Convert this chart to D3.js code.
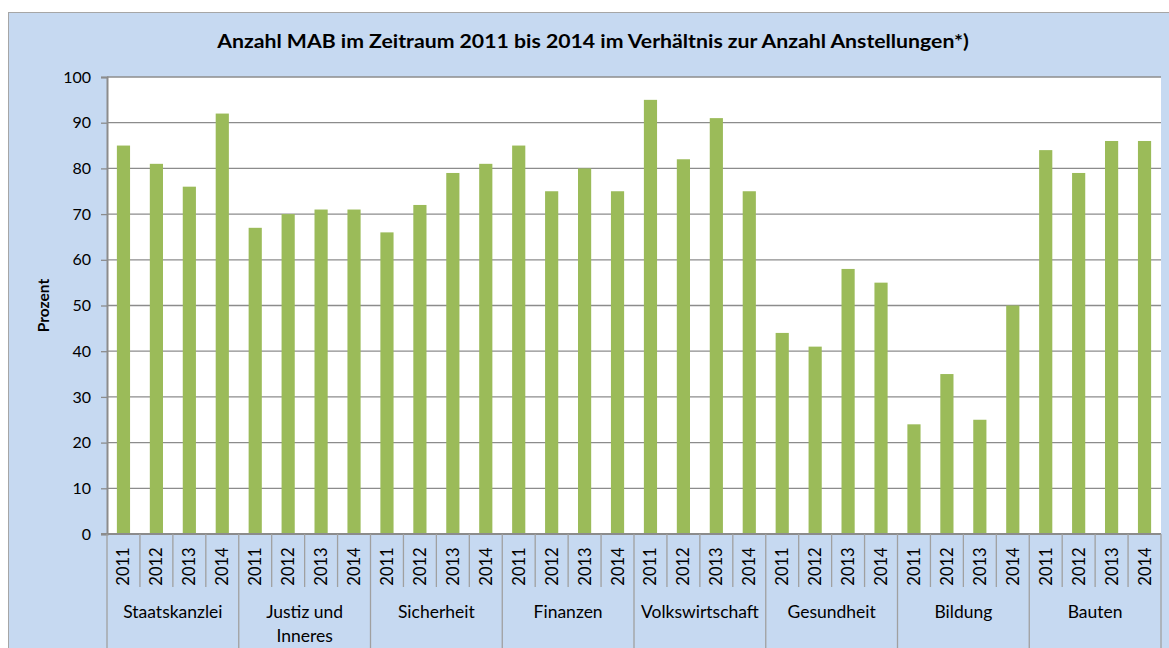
<!DOCTYPE html>
<html>
<head>
<meta charset="utf-8">
<script src="https://cdn.jsdelivr.net/npm/d3@7"></script>
<style>
  body { margin: 0; background: #fff; }
  text { font-family: Lato, "Open Sans", sans-serif; fill: #000; }
</style>
</head>
<body>
<svg width="1169" height="648"></svg>
<script>
// data
const groups = ['Staatskanzlei', 'Justiz und Inneres', 'Sicherheit', 'Finanzen',
  'Volkswirtschaft', 'Gesundheit', 'Bildung', 'Bauten'];
const years = ['2011', '2012', '2013', '2014'];
const values = [
  [85, 81, 76, 92],
  [67, 70, 71, 71],
  [66, 72, 79, 81],
  [85, 75, 80, 75],
  [95, 82, 91, 75],
  [44, 41, 58, 55],
  [24, 35, 25, 50],
  [84, 79, 86, 86]
];
const yTicks = [0, 10, 20, 30, 40, 50, 60, 70, 80, 90, 100];

const title = 'Anzahl MAB im Zeitraum 2011 bis 2014 im Verhältnis zur Anzahl Anstellungen*)';

const svg = d3.select('svg');
const plotLeft = 107, plotRight = 1161, plotTop = 77, plotBottom = 534;

// background of the chart box
svg.append('rect')
  .attr('x', 8.5).attr('y', 12.5)
  .attr('width', 1169).attr('height', 648)
  .attr('fill', '#c6d9f1')
  .attr('stroke', '#a6a6a6');

svg.append('rect')
  .attr('x', plotLeft).attr('y', plotTop)
  .attr('width', plotRight - plotLeft).attr('height', plotBottom - plotTop)
  .attr('fill', '#fff');

const rows = [];
groups.forEach(function (g, gi) {
  years.forEach(function (yr, yi) {
    rows.push({ key: gi + '-' + yi, group: g, year: yr, value: values[gi][yi] });
  });
});

const x = d3.scaleBand()
  .domain(rows.map(d => d.key))
  .range([plotLeft, plotRight])
  .paddingInner(0.6)
  .paddingOuter(0.3);
const step = x.step();

const y = d3.scaleLinear().domain([0, 100]).range([plotBottom, plotTop]);

// gridlines
svg.append('g').selectAll('line')
  .data(yTicks.filter(d => d > 0))
  .enter().append('line')
  .attr('x1', plotLeft).attr('x2', plotRight)
  .attr('y1', d => y(d)).attr('y2', d => y(d))
  .attr('stroke', '#8c8c8c')
  .attr('stroke-width', 1.3);

// bars
svg.append('g').selectAll('rect')
  .data(rows)
  .enter().append('rect')
  .attr('x', d => x(d.key))
  .attr('y', d => y(d.value))
  .attr('width', x.bandwidth())
  .attr('height', d => y(0) - y(d.value))
  .attr('fill', '#9bbb59');

// y axis
const yAxis = d3.axisLeft(y).tickValues(yTicks).tickSize(6).tickPadding(10);
const yg = svg.append('g').attr('transform', 'translate(' + plotLeft + ',0)').call(yAxis);
yg.select('.domain').attr('stroke', '#8c8c8c').attr('stroke-width', 2);
yg.selectAll('.tick line').attr('stroke', '#8c8c8c').attr('stroke-width', 1.3);
yg.selectAll('.tick text')
  .style('font-family', 'Lato, sans-serif')
  .style('font-size', '16px')
  .attr('fill', '#000');

// x axis line
svg.append('line')
  .attr('x1', plotLeft - 6).attr('x2', plotRight)
  .attr('y1', plotBottom).attr('y2', plotBottom)
  .attr('stroke', '#8c8c8c').attr('stroke-width', 2);

// year separators and group separators
const sepG = svg.append('g');
d3.range(rows.length + 1).forEach(function (i) {
  const xx = plotLeft + i * step;
  const isGroup = i % years.length === 0;
  sepG.append('line')
    .attr('x1', xx).attr('x2', xx)
    .attr('y1', plotBottom).attr('y2', isGroup ? 648 : 587)
    .attr('stroke', '#a0a0a0')
    .attr('stroke-width', 1.3);
});

// year labels
svg.append('g').selectAll('text')
  .data(rows)
  .enter().append('text')
  .attr('transform', d => 'translate(' + (x(d.key) + x.bandwidth() / 2 + 6) + ',566.5) rotate(-90)')
  .attr('text-anchor', 'middle')
  .style('font-size', '16.5px')
  .text(d => d.year);

// group labels
const gx = d3.scaleBand().domain(groups).range([plotLeft, plotRight]);
const gl = svg.append('g').selectAll('text')
  .data(groups)
  .enter().append('text')
  .attr('x', d => gx(d) + gx.bandwidth() / 2)
  .attr('y', 618)
  .attr('text-anchor', 'middle')
  .style('font-size', '17.5px');
gl.each(function (d) {
  const t = d3.select(this);
  if (d === 'Justiz und Inneres') {
    t.append('tspan').attr('x', gx(d) + gx.bandwidth() / 2).text('Justiz und');
    t.append('tspan').attr('x', gx(d) + gx.bandwidth() / 2).attr('dy', 24).text('Inneres');
  } else {
    t.text(d);
  }
});

// title
svg.append('text')
  .attr('transform', 'translate(593,48) scale(1.18,1)')
  .attr('text-anchor', 'middle')
  .style('font-size', '18px')
  .style('font-weight', 'bold')
  .text(title);

// y label
svg.append('text')
  .attr('transform', 'translate(49,' + ((plotTop + plotBottom) / 2) + ') rotate(-90)')
  .attr('text-anchor', 'middle')
  .style('font-size', '15.5px')
  .style('font-weight', 'bold')
  .text('Prozent');
</script>
</body>
</html>
